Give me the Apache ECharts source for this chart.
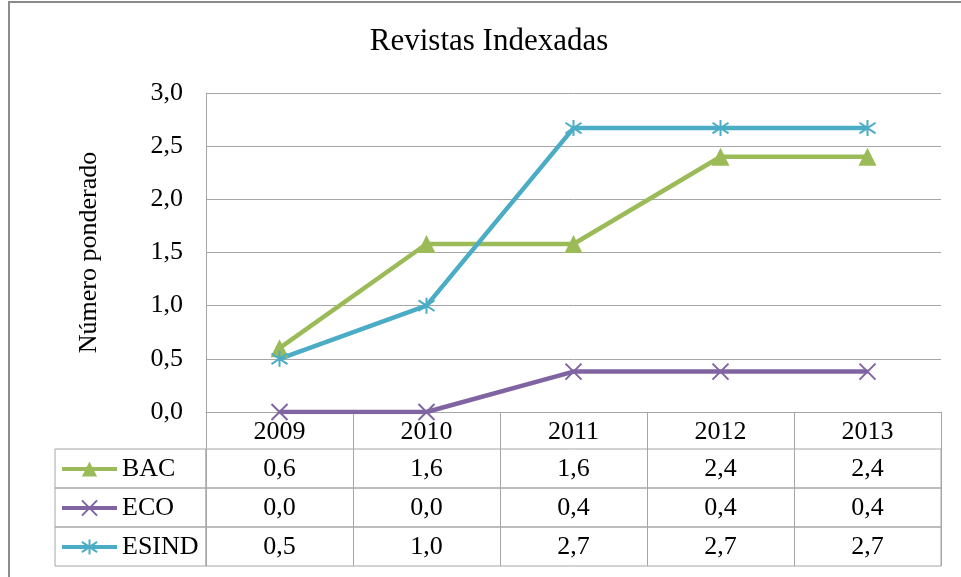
<!DOCTYPE html>
<html>
<head>
<meta charset="utf-8">
<script src="https://cdn.jsdelivr.net/npm/echarts@6/dist/echarts.min.js"></script>
<style>
  html, body { margin: 0; padding: 0; background: #fff; }
  #chart { width: 961px; height: 577px; }
</style>
</head>
<body>
<div id="chart"></div>
<script>
const years = ["2009", "2010", "2011", "2012", "2013"];
const seriesNames = ["BAC", "ECO", "ESIND"];
const bacValues = [0.6, 1.58, 1.58, 2.4, 2.4];
const ecoValues = [0, 0, 0.38, 0.38, 0.38];
const esindValues = [0.5, 1.0, 2.67, 2.67, 2.67];
const yMin = 0;
const yMax = 3;
const yStep = 0.5;

const allValues = [bacValues, ecoValues, esindValues];
const colors = ["#9bbb59", "#8064a2", "#4bacc6"];
const symbols = [
  "triangle",
  "path://M0,0L10,10M10,0L0,10",
  "path://M1,1L9,9M9,1L1,9M5,-1L5,11"
];
const font = "Liberation Serif";
const fs = 26;
const gridColor = "#a6a6a6";
const fmt = (v) => v.toFixed(1).replace(".", ",");

const plotLeft = 206, plotRight = 941, plotTop = 93, plotBottom = 412;
const headerBottom = 449, rowH = 39, tableLeft = 55;

const chart = echarts.init(document.getElementById("chart"));

const grids = [{
  left: plotLeft, top: plotTop,
  width: plotRight - plotLeft, height: plotBottom - plotTop
}];
const xAxes = [{
  type: "category", gridIndex: 0, data: years, boundaryGap: true,
  axisLine: { show: true, lineStyle: { color: gridColor, width: 1 } },
  axisTick: { show: true, interval: 0, length: headerBottom - plotBottom, lineStyle: { color: gridColor } },
  axisLabel: { interval: 0, margin: 20, verticalAlign: "middle", color: "#000", fontFamily: font, fontSize: fs }
}];
const yAxes = [{
  type: "value", gridIndex: 0, min: yMin, max: yMax, interval: yStep,
  name: "Número ponderado", nameLocation: "middle", nameGap: 104,
  nameTextStyle: { color: "#000", fontFamily: font, fontSize: fs },
  axisLine: { show: true, lineStyle: { color: gridColor } },
  axisTick: { show: false },
  axisLabel: { margin: 23, color: "#000", fontFamily: font, fontSize: fs, formatter: fmt },
  splitLine: { show: true, lineStyle: { color: gridColor } }
}];

// value rows of the data table
allValues.forEach((vals, i) => {
  const gi = grids.length;
  grids.push({
    show: true, borderColor: gridColor, borderWidth: 1,
    left: plotLeft, width: plotRight - plotLeft,
    top: headerBottom + i * rowH, height: rowH
  });
  xAxes.push({
    type: "category", gridIndex: gi, data: vals.map(fmt), boundaryGap: true,
    axisLine: { show: false }, axisTick: { show: false },
    splitLine: { show: true, interval: 0, lineStyle: { color: gridColor } },
    axisLabel: { interval: 0, margin: -19, verticalAlign: "middle", color: "#000", fontFamily: font, fontSize: fs }
  });
  yAxes.push({ type: "value", gridIndex: gi, show: false });
});

// row header cells (legend keys sit in these)
allValues.forEach((vals, i) => {
  const gi = grids.length;
  grids.push({
    show: true, borderColor: gridColor, borderWidth: 1,
    left: tableLeft, width: plotLeft - tableLeft,
    top: headerBottom + i * rowH, height: rowH
  });
  xAxes.push({ type: "category", gridIndex: gi, data: [""], show: false });
  yAxes.push({ type: "value", gridIndex: gi, show: false });
});

chart.setOption({
  backgroundColor: "#fff",
  animation: false,
  title: {
    text: "Revistas Indexadas",
    left: 484, top: 21,
    textAlign: "center",
    textStyle: { color: "#000", fontFamily: font, fontSize: 31, fontWeight: "normal" }
  },
  legend: {
    orient: "vertical",
    left: 60, top: headerBottom + 7,
    padding: 0,
    itemWidth: 55, itemHeight: 19, itemGap: rowH - fs,
    data: seriesNames,
    lineStyle: { width: 4 },
    textStyle: { color: "#000", fontFamily: font, fontSize: fs, lineHeight: fs }
  },
  graphic: [{
    type: "rect", silent: true,
    shape: { x: 9, y: 2, width: 1000, height: 700 },
    style: { fill: "none", stroke: "#8c8c8c", lineWidth: 2 }
  }],
  grid: grids,
  xAxis: xAxes,
  yAxis: yAxes,
  series: seriesNames.map((name, i) => ({
    name: name,
    type: "line",
    xAxisIndex: 0, yAxisIndex: 0,
    data: allValues[i],
    symbol: symbols[i],
    symbolSize: i === 0 ? 18 : 16,
    lineStyle: { color: colors[i], width: 4.5 },
    itemStyle: { color: colors[i], borderColor: colors[i], borderWidth: i === 0 ? 0 : 2 }
  }))
});
</script>
</body>
</html>
